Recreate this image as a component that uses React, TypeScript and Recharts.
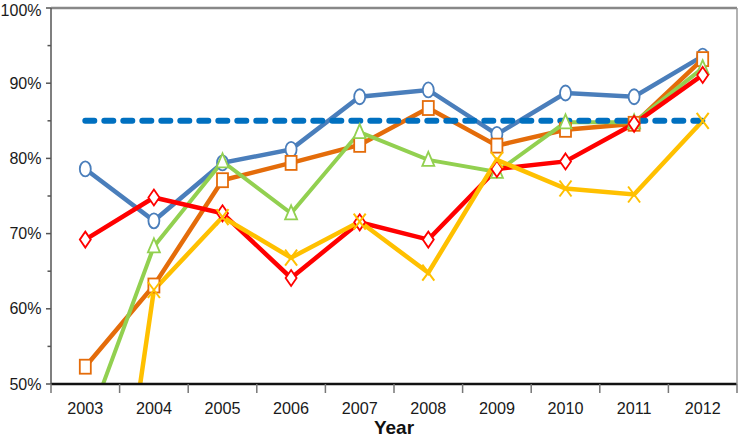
import React from 'react';
import { LineChart, Line, XAxis, YAxis, CartesianGrid, ReferenceLine } from 'recharts';

const years = ['2003', '2004', '2005', '2006', '2007', '2008', '2009', '2010', '2011', '2012'];
const blueSeries = [78.6, 71.7, 79.4, 81.2, 88.2, 89.1, 83.2, 88.7, 88.2, 93.6];
const orangeSeries = [52.3, 63.1, 77.1, 79.4, 81.8, 86.7, 81.7, 83.8, 84.6, 93.2];
const greenSeries = [43.6, 68.3, 79.6, 72.7, 83.5, 79.8, 78.2, 84.8, 84.8, 92.0];
const redSeries = [69.2, 74.8, 72.7, 64.1, 71.5, 69.2, 78.6, 79.6, 84.6, 91.1];
const yellowSeries = [0, 62.5, 72.2, 66.8, 71.6, 64.8, 79.8, 76.0, 75.2, 85.0];
const targetSeries = [85, 85, 85, 85, 85, 85, 85, 85, 85, 85];
const yTicks = [50, 60, 70, 80, 90, 100];

const data = years.map((y, i) => ({
  year: y,
  blue: blueSeries[i],
  orange: orangeSeries[i],
  green: greenSeries[i],
  red: redSeries[i],
  yellow: yellowSeries[i],
  target: targetSeries[i],
}));

const BLUE = '#4A7EBB';
const ORANGE = '#E46C0A';
const GREEN = '#92D050';
const RED = '#FF0000';
const YELLOW = '#FFC000';
const TARGET = '#0070C0';

const FONT = '"Liberation Sans", Arial, sans-serif';
const X_TICK_SIZE = 9;
const X_TICK_MARGIN = 9;
const Y_TICK_SIZE = 5;
const Y_TICK_MARGIN = 4.5;

const circleDot = (p: any) => (
  <ellipse key={`c${p.index}`} cx={p.cx} cy={p.cy} rx={5.5} ry={7.5} fill="#fff" stroke={BLUE} strokeWidth={1.8} />
);
const squareDot = (p: any) => (
  <rect key={`s${p.index}`} x={p.cx - 5.5} y={p.cy - 7} width={11} height={14} fill="#fff" stroke={ORANGE} strokeWidth={1.8} />
);
const triangleDot = (p: any) => (
  <polygon
    key={`t${p.index}`}
    points={`${p.cx},${p.cy - 8} ${p.cx - 6},${p.cy + 6} ${p.cx + 6},${p.cy + 6}`}
    fill="#fff"
    stroke={GREEN}
    strokeWidth={1.8}
  />
);
const diamondDot = (p: any) => (
  <polygon
    key={`d${p.index}`}
    points={`${p.cx},${p.cy - 8} ${p.cx + 5.5},${p.cy} ${p.cx},${p.cy + 8} ${p.cx - 5.5},${p.cy}`}
    fill="#fff"
    stroke={RED}
    strokeWidth={1.8}
  />
);
const crossDot = (p: any) => (
  <g key={`x${p.index}`}>
    <line x1={p.cx - 6} y1={p.cy - 8} x2={p.cx + 6} y2={p.cy + 8} stroke={YELLOW} strokeWidth={2} />
    <line x1={p.cx + 6} y1={p.cy - 8} x2={p.cx - 6} y2={p.cy + 8} stroke={YELLOW} strokeWidth={2} />
  </g>
);

const XTick = (props: any) => {
  const { x, y, payload, index, width, visibleTicksCount } = props;
  const band = width / visibleTicksCount;
  const axisY = y - X_TICK_SIZE - X_TICK_MARGIN;
  return (
    <g>
      <line x1={x - band / 2} y1={axisY} x2={x - band / 2} y2={axisY + X_TICK_SIZE} stroke="#777" strokeWidth={1.5} />
      {index === visibleTicksCount - 1 && (
        <line x1={x + band / 2} y1={axisY} x2={x + band / 2} y2={axisY + X_TICK_SIZE} stroke="#777" strokeWidth={1.5} />
      )}
      <text x={x} y={y} dy="0.71em" textAnchor="middle" fontSize={16.2} fontFamily={FONT} fill="#1a1a1a">
        {payload.value}
      </text>
    </g>
  );
};

const YTick = (props: any) => {
  const { x, y, payload, height } = props;
  const left = x + Y_TICK_SIZE + Y_TICK_MARGIN;
  const half = height / 10;
  const isTop = payload.value >= 100;
  return (
    <g>
      {!isTop && (
        <line x1={left - 3.5} y1={y - half} x2={left} y2={y - half} stroke="#555" strokeWidth={1.5} />
      )}
      <text x={x} y={isTop ? y + 2 : y} dy="0.355em" textAnchor="end" fontSize={16} fontFamily={FONT} fill="#1a1a1a">
        {`${payload.value}%`}
      </text>
    </g>
  );
};

export default function App() {
  return (
    <div style={{ position: 'absolute', left: 0, top: 0, background: '#fff' }}>
      <LineChart width={739} height={438} data={data} margin={{ top: 8, right: 0, bottom: 0, left: 0 }}>
        <CartesianGrid vertical={false} stroke="#a6a6a6" strokeWidth={1.5} />
        <XAxis
          dataKey="year"
          xAxisId="cat"
          scale="band"
          height={54}
          tickLine={false}
          tickSize={X_TICK_SIZE}
          tickMargin={X_TICK_MARGIN}
          axisLine={{ stroke: '#111', strokeWidth: 2.5 }}
          tick={<XTick />}
          interval={0}
          label={{ value: 'Year', position: 'insideBottom', offset: 4, fontSize: 19, fontWeight: 'bold', fill: '#111', fontFamily: FONT }}
        />
        <YAxis
          yAxisId="main"
          width={51}
          domain={[50, 100]}
          ticks={yTicks}
          allowDataOverflow
          tickSize={Y_TICK_SIZE}
          tickMargin={Y_TICK_MARGIN}
          tickLine={{ stroke: '#555', strokeWidth: 1.5 }}
          axisLine={{ stroke: '#555', strokeWidth: 1.5 }}
          tick={<YTick />}
          interval={0}
        />
        <YAxis
          yAxisId="right"
          orientation="right"
          width={2}
          domain={[50, 100]}
          tick={false}
          tickLine={false}
          axisLine={{ stroke: '#999', strokeWidth: 1.5 }}
        />
        <ReferenceLine yAxisId="main" xAxisId="cat" y={100} stroke="#888" strokeWidth={2.5} />
        <Line xAxisId="cat" yAxisId="main" dataKey="blue" stroke={BLUE} strokeWidth={4.5} dot={circleDot} isAnimationActive={false} />
        <Line xAxisId="cat" yAxisId="main" dataKey="orange" stroke={ORANGE} strokeWidth={4.5} dot={squareDot} isAnimationActive={false} />
        <Line xAxisId="cat" yAxisId="main" dataKey="green" stroke={GREEN} strokeWidth={4} dot={triangleDot} isAnimationActive={false} />
        <Line xAxisId="cat" yAxisId="main" dataKey="red" stroke={RED} strokeWidth={4.5} dot={diamondDot} isAnimationActive={false} />
        <Line xAxisId="cat" yAxisId="main" dataKey="yellow" stroke={YELLOW} strokeWidth={4.5} dot={crossDot} isAnimationActive={false} />
        <Line
          xAxisId="cat"
          yAxisId="main"
          dataKey="target"
          stroke={TARGET}
          strokeWidth={6}
          strokeDasharray="9 10"
          strokeLinecap="round"
          dot={false}
          isAnimationActive={false}
        />
      </LineChart>
    </div>
  );
}
